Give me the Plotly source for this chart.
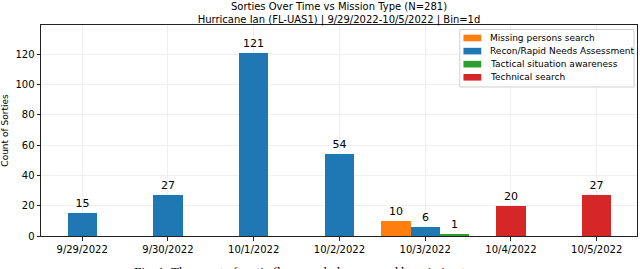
import plotly.graph_objects as go

dates = ["9/29/2022", "9/30/2022", "10/1/2022", "10/2/2022", "10/3/2022", "10/4/2022", "10/5/2022"]
mission_types = ["Missing persons search", "Recon/Rapid Needs Assessment",
                 "Tactical situation awareness", "Technical search"]
missing_persons = [0, 0, 0, 0, 10, 0, 0]
recon = [15, 27, 121, 54, 6, 0, 0]
tactical = [0, 0, 0, 0, 1, 0, 0]
technical = [0, 0, 0, 0, 0, 20, 27]
colors = ["#ff7f0e", "#1f77b4", "#2ca02c", "#d62728"]

series = [missing_persons, recon, tactical, technical]
bar_w = 0.34

# center the non-zero bars of each date around the date's tick
offsets = [[None] * len(dates) for _ in series]
for d in range(len(dates)):
    present = [s for s in range(len(series)) if series[s][d] > 0]
    n = len(present)
    for k, s in enumerate(present):
        offsets[s][d] = d + (k - (n - 1) / 2) * bar_w

total = sum(sum(s) for s in series)

W, H = 640, 269
ML, MR, MT, MB = 36, 2, 25, 33
PW, PH = W - ML - MR, H - MT - MB


def px(x):
    return (x - ML) / PW


def py(y):
    return 1 - (y - MT) / PH


fig = go.Figure()
for s, name in enumerate(mission_types):
    xs = [offsets[s][d] for d in range(len(dates)) if series[s][d] > 0]
    ys = [series[s][d] for d in range(len(dates)) if series[s][d] > 0]
    fig.add_trace(go.Bar(
        x=xs, y=ys, name=name, width=bar_w,
        marker=dict(color=colors[s], line=dict(width=0)),
        text=[str(v) for v in ys], textposition="outside",
        textfont=dict(size=11, color="black", family="DejaVu Sans"),
        cliponaxis=False, constraintext="none", showlegend=False,
    ))

# legend drawn as shapes + annotations (matplotlib-style compact legend)
shapes = [dict(type="rect", xref="paper", yref="paper",
               x0=px(459), x1=px(635), y0=py(87), y1=py(29.5),
               line=dict(color="#d0d0d0", width=1), fillcolor="rgba(255,255,255,0.85)",
               layer="above")]
annotations = []
for i, name in enumerate(mission_types):
    cy = 38 + 13.1 * i
    shapes.append(dict(type="rect", xref="paper", yref="paper",
                       x0=px(462.7), x1=px(480.7), y0=py(cy + 3.3), y1=py(cy - 3.3),
                       line=dict(width=0), fillcolor=colors[i], layer="above"))
    annotations.append(dict(text=name, xref="paper", yref="paper",
                            x=px(487.5), y=py(cy), xanchor="left", yanchor="middle",
                            showarrow=False, font=dict(size=9, family="DejaVu Sans", color="black")))

annotations.append(dict(
    text="Fig. 1: The count of sortie flown each day grouped by mission type.",
    xref="paper", yref="paper", x=px(308), y=py(262),
    xanchor="center", yanchor="top", showarrow=False,
    font=dict(family="Liberation Serif", size=13, color="black"),
))

fig.update_layout(
    width=W, height=H,
    margin=dict(l=ML, r=MR, t=MT, b=MB),
    paper_bgcolor="white", plot_bgcolor="white",
    font=dict(family="DejaVu Sans", color="black", size=10),
    title=dict(
        text=f"Sorties Over Time vs Mission Type (N={total})<br>Hurricane Ian (FL-UAS1) | 9/29/2022-10/5/2022 | Bin=1d",
        x=0.5, xref="paper", xanchor="center",
        y=1 - 10.3 / H, yref="container", yanchor="middle",
        font=dict(size=10, family="DejaVu Sans", color="black"),
    ),
    showlegend=False,
    bargap=0,
    shapes=shapes,
    annotations=annotations,
)
fig.update_xaxes(
    range=[-0.48, 6.47], tickmode="array", tickvals=list(range(len(dates))), ticktext=dates,
    showgrid=True, gridcolor="#efefef", gridwidth=1,
    showline=True, linecolor="#222222", linewidth=1, mirror=True,
    ticks="outside", ticklen=3.5, tickcolor="#222222",
    tickfont=dict(size=10), zeroline=False,
)
fig.update_yaxes(
    range=[0, 139.2], tickvals=[0, 20, 40, 60, 80, 100, 120],
    showgrid=True, gridcolor="#efefef", gridwidth=1,
    showline=True, linecolor="#222222", linewidth=1, mirror=True,
    ticks="outside", ticklen=3.5, tickcolor="#222222",
    tickfont=dict(size=10), zeroline=False,
    title=dict(text="Count of Sorties", font=dict(size=9), standoff=7),
)

fig.write_html("out.html",
               config={"displayModeBar": False},
               post_script="document.body.style.margin='0';document.body.style.overflow='hidden';")
